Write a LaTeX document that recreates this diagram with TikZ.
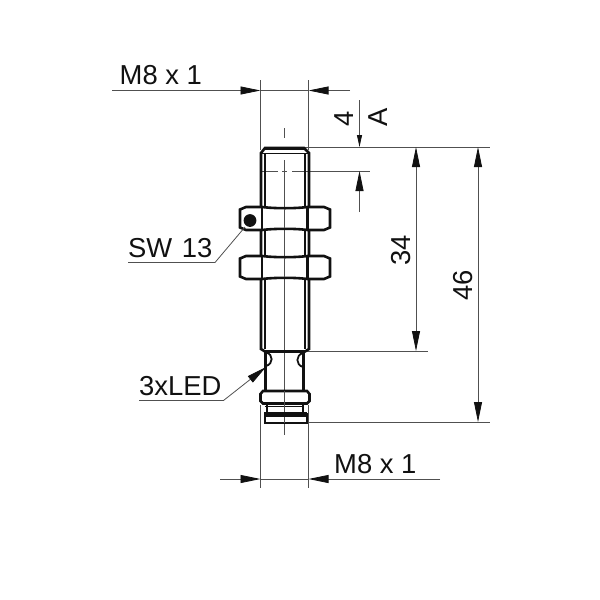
\documentclass[tikz,border=0pt]{standalone}
\usepackage{fontspec}
\setmainfont{Liberation Sans}
\usetikzlibrary{arrows.meta}
\definecolor{inkc}{HTML}{111111}
\definecolor{thinc}{HTML}{505050}
\tikzset{
  x=1pt,y=-1pt,
  thick outline/.style={draw=inkc,line width=2.6pt,line join=miter},
  inner outline/.style={draw=inkc,line width=1.5pt},
  fine/.style={draw=thinc,line width=0.8pt},
  dimtip/.style={-{Triangle[length=20pt,width=8pt,color=inkc]},draw=thinc,line width=0.8pt},
  dimtipshort/.style={-{Triangle[length=12pt,width=5pt,color=inkc]},draw=thinc,line width=0.8pt},
  lbl/.style={font=\fontsize{27.4}{27.4}\selectfont,text=inkc,inner sep=0pt},
}
\begin{document}
\begin{tikzpicture}
\useasboundingbox (0,0) rectangle (600,600);
% centre line
\draw[fine] (284.5,128) -- (284.5,138);
\draw[fine] (284.5,160) -- (284.5,435);
% extension lines
\draw[fine] (260.5,80) -- (260.5,150);
\draw[fine] (308.5,80) -- (308.5,150);
\draw[fine] (260.5,405) -- (260.5,488);
\draw[fine] (308.5,405) -- (308.5,488);
\draw[fine] (305,147) -- (490,147);
\draw[fine] (303,351) -- (428,351);
\draw[fine] (305,422) -- (490,422);
\draw[fine] (262,171) -- (278,171) (282,171) -- (287,171) (292,171) -- (370,171);
% body
\draw[thick outline] (261,349) -- (261,153) -- (265,148) -- (304,148) -- (309,153) -- (309,349) -- (305,351.5) -- (265,351.5) -- cycle;
\draw[inner outline] (264.8,153) -- (264.8,349) (305.2,153) -- (305.2,349);
\draw[draw=inkc,line width=3.2pt] (265,148.5) -- (304,148.5);
\draw[draw=inkc,line width=1pt] (261,153) -- (309,153);
% nuts
\foreach \t/\b in {207/230,256/279}{
  \draw[thick outline,fill=white] (240,{\t+2.5}) -- (246,\t) -- (262,\t) .. controls (275,{\t+1.6}) and (295,{\t+1.6}) .. (307.5,\t) -- (324,\t) -- (330,{\t+2.5}) -- (330,{\b-2.5}) -- (324,\b) -- (307.5,\b) .. controls (295,{\b-1.6}) and (275,{\b-1.6}) .. (262,\b) -- (246,\b) -- (240,{\b-2.5}) -- cycle;
  \draw[thick outline] (262,\t) -- (262,\b) (307.5,\t) -- (307.5,\b);
}
\draw[fine] (284.5,209) -- (284.5,228) (284.5,258) -- (284.5,277);
\fill[inkc] (250,220.5) circle (6.4);
% neck and LED holes
\draw[thick outline] (265.5,351) -- (265.5,391) (303.5,351) -- (303.5,391);
\draw[draw=inkc,line width=1.8pt] (266,352.5) .. controls (273.5,354) and (273.5,364) .. (266,366);
\draw[draw=inkc,line width=1.8pt] (303,353) .. controls (295.5,355) and (295.5,365) .. (303,367);
% flange and head
\draw[thick outline] (263,391) -- (307,391) -- (309.5,394) -- (309.5,401) -- (307,403.5) -- (263,403.5) -- (260.5,401) -- (260.5,394) -- cycle;
\draw[draw=inkc,line width=1pt] (265,406) -- (304,406);
\draw[thick outline] (267,404) -- (267,412) (303,404) -- (303,412);
\draw[draw=inkc,line width=2pt] (264.5,414) -- (306.5,414) -- (306.5,423.3) -- (264.5,423.3) -- cycle;
\fill[inkc] (264,411.5) rectangle (307,416.5);
\draw[fine] (284.5,391) -- (284.5,411) (284.5,417) -- (284.5,423);
% dimension M8 x 1 top
\node[lbl,anchor=base west] (top) at (119.5,84) {M8 x 1};
\coordinate (topA) at (112,90.5);
\coordinate (topB) at (350,90.5);
\draw[dimtip] (topA) -- (260.5,90.5);
\draw[dimtip] (topB) -- (308.5,90.5);
\draw[fine] (260.5,90.5) -- (308.5,90.5);
% dimension M8 x 1 bottom
\node[lbl,anchor=base west] (bot) at (334,473) {M8 x 1};
\coordinate (botA) at (220,479);
\coordinate (botB) at (440,479);
\draw[dimtip] (botA) -- (260.5,479);
\draw[dimtip] (botB) -- (308.5,479);
\draw[fine] (260.5,479) -- (308.5,479);
% dimension 4 / A
\coordinate (aT) at (359.5,100);
\coordinate (aB) at (359.5,212);
\draw[dimtipshort] (aT) -- (359.5,147);
\draw[dimtip] (aB) -- (359.5,171);
\node[lbl,rotate=90,anchor=base] (four) at (353,119) {4};
\node[lbl,rotate=90,anchor=base] (aa) at (387,117) {A};
% dimension 34
\coordinate (d34a) at (416,147);
\coordinate (d34b) at (416,351);
\draw[dimtip] (416,250) -- (d34a);
\draw[dimtip] (416,250) -- (d34b);
\node[lbl,rotate=90,anchor=base] (n34) at (410,250) {34};
% dimension 46
\coordinate (d46a) at (478,147);
\coordinate (d46b) at (478,422);
\draw[dimtip] (478,285) -- (d46a);
\draw[dimtip] (478,285) -- (d46b);
\node[lbl,rotate=90,anchor=base] (n46) at (472,285) {46};
% SW 13
\node[lbl,anchor=base west] (sw) at (128,257) {SW\hspace{2pt} 13};
\coordinate (swA) at (128,262.5);
\coordinate (swB) at (215,262.5);
\coordinate (swC) at (245,227);
\draw[fine] (swA) -- (swB) -- (swC);
% 3xLED
\node[lbl,anchor=base west] (led) at (139,395) {3xLED};
\coordinate (ledA) at (139,400.5);
\coordinate (ledB) at (223.5,400.5);
\coordinate (ledC) at (266,367);
\draw[fine] (ledA) -- (ledB);
\draw[dimtip] (ledB) -- (ledC);
\end{tikzpicture}
\end{document}
